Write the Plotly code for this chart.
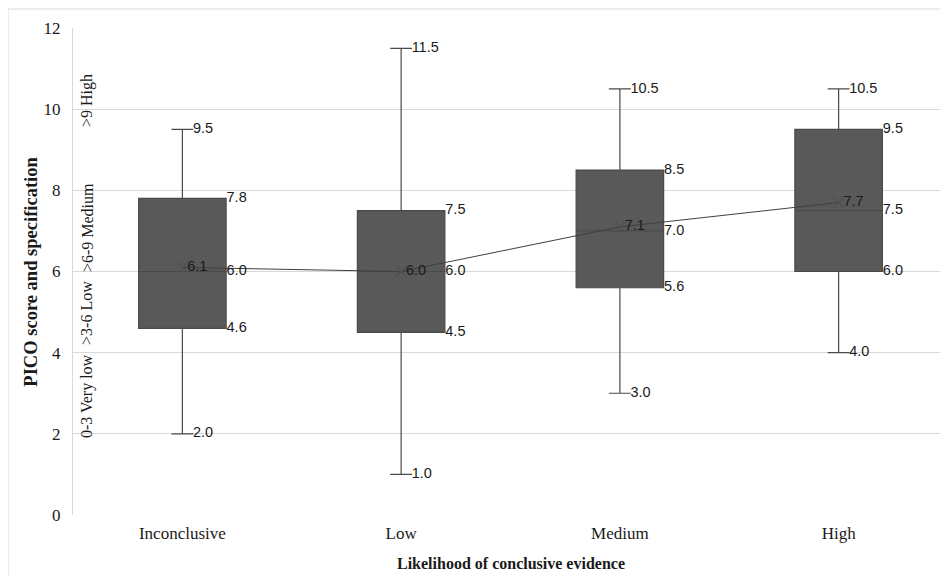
import plotly.graph_objects as go

categories = ["Inconclusive", "Low", "Medium", "High"]
lower_whisker = [2.0, 1.0, 3.0, 4.0]
q1 = [4.6, 4.5, 5.6, 6.0]
median = [6.0, 6.0, 7.0, 7.5]
q3 = [7.8, 7.5, 8.5, 9.5]
upper_whisker = [9.5, 11.5, 10.5, 10.5]
means = [6.1, 6.0, 7.1, 7.7]
band_labels = ["0-3 Very low", ">3-6 Low", ">6-9 Medium", ">9 High"]
band_label_y = [2.93, 4.98, 7.07, 10.2]
y_ticks = [0, 2, 4, 6, 8, 10, 12]

xpos = list(range(len(categories)))
BOX_W = 0.40
CAP_OFF = 0.048
LBL_FONT = dict(family="Liberation Sans, Arial, sans-serif", size=14.5, color="#1a1a1a")
SERIF = "Liberation Serif, Times New Roman, serif"

fig = go.Figure()

fig.add_trace(go.Box(
    x=xpos, q1=q1, median=median, q3=q3,
    lowerfence=lower_whisker, upperfence=upper_whisker,
    width=BOX_W, whiskerwidth=0.25,
    fillcolor="#595959", line=dict(color="#4a4a4a", width=1.2),
    boxpoints=False, showlegend=False, hoverinfo="skip",
))

fig.add_trace(go.Scatter(
    x=xpos, y=means, mode="lines+markers",
    line=dict(color="#404040", width=1),
    marker=dict(symbol="x-thin", size=11, color="#505050",
                line=dict(width=1.2, color="#505050")),
    showlegend=False, hoverinfo="skip",
))

# whisker labels (right of cap)
for vals in (lower_whisker, upper_whisker):
    fig.add_trace(go.Scatter(
        x=[p + CAP_OFF for p in xpos], y=vals, mode="text",
        text=[f"{v:.1f}" for v in vals], textposition="middle right",
        textfont=LBL_FONT, showlegend=False, hoverinfo="skip"))

# box labels (right edge of box)
for vals in (q1, median, q3):
    fig.add_trace(go.Scatter(
        x=[p + BOX_W / 2 + 0.002 for p in xpos], y=vals, mode="text",
        text=[f"{v:.1f}" for v in vals], textposition="middle right",
        textfont=LBL_FONT, showlegend=False, hoverinfo="skip"))

# mean labels
fig.add_trace(go.Scatter(
    x=[p + 0.022 for p in xpos], y=means, mode="text",
    text=[f"{v:.1f}" for v in means], textposition="middle right",
    textfont=LBL_FONT, showlegend=False, hoverinfo="skip"))

# rotated band labels
for lbl, yy in zip(band_labels, band_label_y):
    fig.add_annotation(
        x=0.016, xref="paper", xanchor="center", y=yy, yref="y", yanchor="middle",
        text=lbl, textangle=-90,
        showarrow=False, font=dict(family=SERIF, size=16, color="#1a1a1a"))

# outer border (top and left visible)
fig.add_shape(type="rect", xref="paper", yref="paper",
              x0=-0.0743, x1=1.05, y0=-0.2, y1=1.039,
              line=dict(color="#d9d9d9", width=1), layer="below")

# axis titles as annotations
fig.add_annotation(x=0.5, xref="paper", y=-0.1, yref="paper", yanchor="middle",
                   text="<b>Likelihood of conclusive evidence</b>", showarrow=False,
                   font=dict(family=SERIF, size=16, color="#1a1a1a"))
fig.add_annotation(x=-0.049, xref="paper", xanchor="center", y=0.5, yref="paper",
                   text="<b>PICO score and specification</b>", showarrow=False,
                   textangle=-90, font=dict(family=SERIF, size=18.5, color="#1a1a1a"))

fig.update_layout(
    width=940, height=569,
    margin=dict(l=65, r=0, t=20, b=62, autoexpand=False),
    paper_bgcolor="white", plot_bgcolor="white",
    xaxis=dict(
        range=[-0.5, 3.5], tickmode="array", tickvals=xpos, ticktext=categories,
        showgrid=False, zeroline=False, showline=False, ticks="", automargin=False,
        ticklabelstandoff=6,
        tickfont=dict(family=SERIF, size=17, color="#1a1a1a"),
    ),
    yaxis=dict(
        range=[0, 12], tickmode="array", tickvals=y_ticks, automargin=False,
        showgrid=True, gridcolor="#d9d9d9", gridwidth=1,
        zeroline=False, showline=True, linecolor="#d9d9d9", linewidth=1,
        ticks="", ticklabelstandoff=8,
        tickfont=dict(family=SERIF, size=17, color="#1a1a1a"),
    ),
)

fig.write_html("out.html")
